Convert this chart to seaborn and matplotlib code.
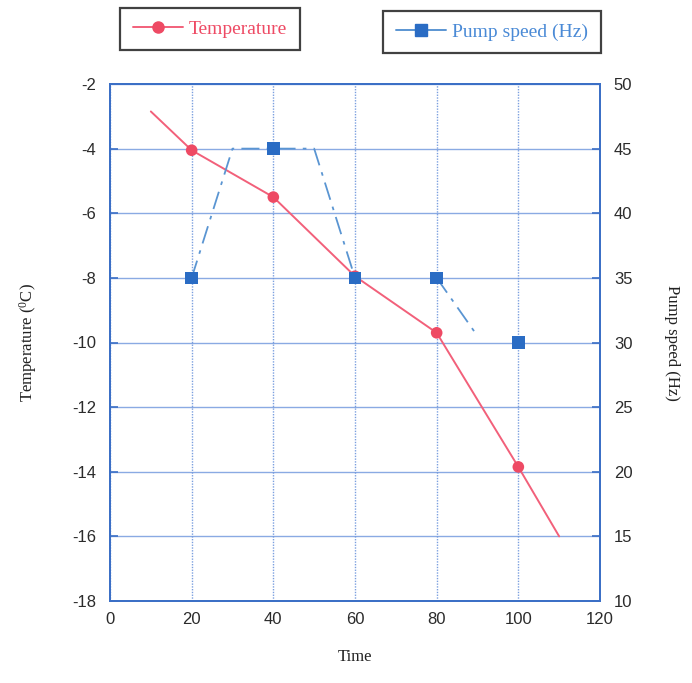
import matplotlib
matplotlib.use("Agg")
import matplotlib.pyplot as plt
import seaborn as sns
import pandas as pd
from matplotlib.lines import Line2D

# ---- data ----
temp_line_time = [10, 20, 40, 60, 80, 100, 110]
temp_line_vals = [-2.85, -4.05, -5.5, -7.95, -9.7, -13.85, -16.0]
temp_mark_time = [20, 40, 60, 80, 100]
temp_mark_vals = [-4.05, -5.5, -7.95, -9.7, -13.85]

pump_seg1_time = [20, 30, 50, 60]
pump_seg1_vals = [35, 45, 45, 35]
pump_seg2_time = [80, 90]
pump_seg2_vals = [35, 30.5]
pump_mark_time = [20, 40, 60, 80, 100]
pump_mark_vals = [35, 45, 35, 35, 30]

x_ticks = [0, 20, 40, 60, 80, 100, 120]
temp_ticks = [-18, -16, -14, -12, -10, -8, -6, -4, -2]
pump_ticks = [10, 15, 20, 25, 30, 35, 40, 45, 50]

sns.set_theme(style="white")
plt.rcParams['font.family'] = ['Liberation Sans', 'DejaVu Sans']
plt.rcParams['mathtext.fontset'] = 'custom'
plt.rcParams['mathtext.rm'] = 'Liberation Serif'
plt.rcParams['mathtext.it'] = 'Liberation Serif'
plt.rcParams['axes.unicode_minus'] = False

RED = "#ee4a64"
RED_LINE = "#f2607a"
BLUE = "#2a6cc4"
BLUE_LINE = "#5a95d2"
AX_BLUE = "#3b6fc6"
GRID = "#6d95dc"

fig = plt.figure(figsize=(6.92, 6.83), dpi=100)
ax = fig.add_axes([110/692, 1-601/683, 490/692, 517/683])
ax2 = ax.twinx()

df_tl = pd.DataFrame({"t": temp_line_time, "v": temp_line_vals})
df_tm = pd.DataFrame({"t": temp_mark_time, "v": temp_mark_vals})
df_pl = pd.concat([
    pd.DataFrame({"t": pump_seg1_time, "v": pump_seg1_vals, "seg": 1}),
    pd.DataFrame({"t": pump_seg2_time, "v": pump_seg2_vals, "seg": 2}),
], ignore_index=True)
df_pm = pd.DataFrame({"t": pump_mark_time, "v": pump_mark_vals})

sns.lineplot(data=df_tl, x="t", y="v", ax=ax, color=RED_LINE, lw=1.4, sort=False, zorder=4)
sns.scatterplot(data=df_tm, x="t", y="v", ax=ax, color=RED, s=70, marker="o", edgecolor="none", zorder=5)

sns.lineplot(data=df_pl, x="t", y="v", units="seg", estimator=None, ax=ax2, color=BLUE_LINE, lw=1.3,
             sort=False, linestyle=(0, (10, 4, 2, 4)), zorder=4)
sns.scatterplot(data=df_pm, x="t", y="v", ax=ax2, color=BLUE, s=80, marker="s", edgecolor="none", zorder=5)

ax.set_xlim(0, 120)
ax.set_ylim(-18, -2)
ax2.set_ylim(10, 50)
ax.set_xticks(x_ticks)
ax.set_yticks(temp_ticks)
ax2.set_yticks(pump_ticks)

ax.grid(True, axis="y", color=GRID, lw=1.0, ls="-", alpha=0.8)
ax.grid(True, axis="x", color=GRID, lw=1.0, ls=(0, (1, 1)), alpha=0.9)
ax.set_axisbelow(True)

for a in (ax, ax2):
    for s in a.spines.values():
        s.set_color(AX_BLUE)
        s.set_linewidth(1.3)
    a.tick_params(colors=AX_BLUE, labelcolor="#2b2b2b", direction="in", length=6, width=1.2, labelsize=12)
ax.tick_params(axis="x", pad=8)
ax.tick_params(axis="y", pad=10)
ax2.tick_params(axis="y", pad=10)

ax.set_xlabel("Time", family="Liberation Serif", fontsize=12, labelpad=16, color="#222222")
ax.set_ylabel(r"Temperature ($^0$C)", family="Liberation Serif", fontsize=12, labelpad=24, color="#222222")
ax2.set_ylabel("Pump speed (Hz)", family="Liberation Serif", fontsize=12, rotation=-90,
               labelpad=34, color="#222222")
ax2.set_zorder(ax.get_zorder() + 1)
ax2.patch.set_visible(False)

h1 = Line2D([], [], color=RED_LINE, marker="o", markerfacecolor=RED, markeredgecolor=RED, markersize=8, lw=1.4)
h2 = Line2D([], [], color=BLUE_LINE, marker="s", markerfacecolor=BLUE, markeredgecolor=BLUE, markersize=8, lw=1.4)

leg1 = fig.legend([h1], ["Temperature"], loc="center", bbox_to_anchor=(210/692, 1-29/683),
                  frameon=True, fancybox=False, edgecolor="#111111", handlelength=2.6,
                  prop={"family": "Liberation Serif", "size": 14}, borderpad=0.65, handletextpad=0.3)
leg1.get_frame().set_linewidth(1.6)
for t in leg1.get_texts():
    t.set_color(RED)
leg2 = fig.legend([h2], ["Pump speed (Hz)"], loc="center", bbox_to_anchor=(492/692, 1-32/683),
                  frameon=True, fancybox=False, edgecolor="#111111", handlelength=2.6,
                  prop={"family": "Liberation Serif", "size": 14}, borderpad=0.65, handletextpad=0.3)
leg2.get_frame().set_linewidth(1.6)
for t in leg2.get_texts():
    t.set_color("#4a8ad6")

fig.savefig("out.png", dpi=100)
